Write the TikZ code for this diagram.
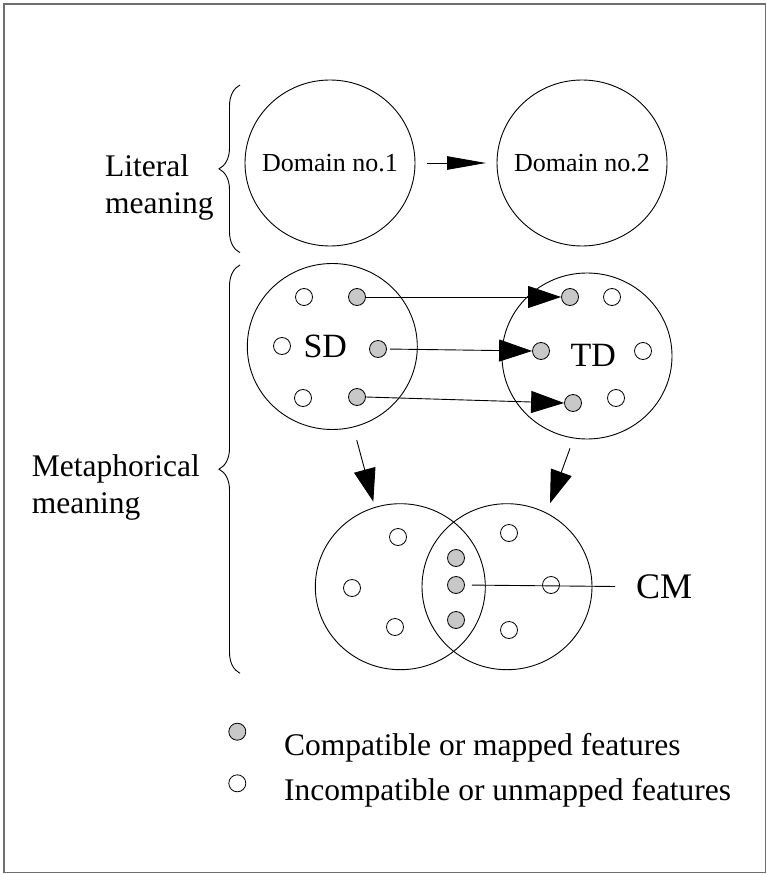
\documentclass[tikz,border=0pt]{standalone}
\usepackage{fontspec}
\setmainfont{Liberation Serif}
\usetikzlibrary{arrows.meta,shapes.geometric,decorations.pathreplacing}
\definecolor{framegray}{RGB}{110,110,110}
\definecolor{featgray}{RGB}{200,200,200}
\begin{document}
\begin{tikzpicture}[x=1pt,y=-1pt,
  dombox/.style={draw,ellipse,minimum width=170pt,minimum height=166pt,inner sep=0pt,outer sep=0pt,line width=0.9pt},
  domtext/.style={font=\fontsize{26}{30}\selectfont,inner sep=0pt},
  feat/.style={draw,circle,minimum size=17pt,inner sep=0pt,line width=0.8pt},
  mapped/.style={feat,fill=featgray},
  unmapped/.style={feat,fill=white},
  lbl/.style={font=\fontsize{31.5}{36.5}\selectfont,align=left,anchor=base west,inner sep=0pt},
  dlabel/.style={font=\fontsize{34}{38}\selectfont,inner sep=0pt},
  bigtip/.style={-{Triangle[length=33pt,width=22pt]},line width=0.9pt},
  smalltip/.style={-{Triangle[length=39pt,width=13.5pt]},line width=0.9pt},
  bracestyle/.style={decorate,decoration={brace,amplitude=21pt},line width=0.9pt}
]
\useasboundingbox (0,0) rectangle (767,874);
\draw[framegray,line width=1.3pt] (4,4) rectangle (765.5,872.5);

% ---- literal meaning ----
\node[lbl] (litlbl) at (105,213.3) {Literal\\meaning};
\coordinate (litTop) at (240,85);
\coordinate (litBot) at (240,252.7);
\draw[bracestyle] (litBot) -- (litTop);

\node[dombox] (d1) at (330,163) {};
\node[dombox] (d2) at (582,163) {};
\node[domtext] (d1txt) at (330,163) {Domain no.1};
\node[domtext] (d2txt) at (582,163) {Domain no.2};
\draw[smalltip,shorten <=11.7pt,shorten >=11pt] (d1.east) -- (d2.west);

% ---- metaphorical meaning ----
\node[lbl] (metlbl) at (31.7,513) {Metaphorical\\meaning};
\coordinate (metTop) at (240,265);
\coordinate (metBot) at (240,673.3);
\draw[bracestyle] (metBot) -- (metTop);

% source and target domains
\node[dombox] (sd) at (332.3,346.5) {};
\node[dombox] (td) at (587,356) {};
\node[dlabel] (sdlbl) at (325.3,346) {SD};
\node[dlabel] (tdlbl) at (593.3,355) {TD};

\node[unmapped] (so1) at (304,297) {};
\node[mapped]   (sg1) at (357,297) {};
\node[unmapped] (so2) at (282,346) {};
\node[mapped]   (sg2) at (378,349) {};
\node[unmapped] (so3) at (303,398) {};
\node[mapped]   (sg3) at (357,397) {};

\node[mapped]   (tg1) at (570,297) {};
\node[unmapped] (to1) at (612,297) {};
\node[mapped]   (tg2) at (541,351) {};
\node[unmapped] (to2) at (643,351) {};
\node[mapped]   (tg3) at (573,403) {};
\node[unmapped] (to3) at (616,398) {};

\draw[bigtip] (sg1.east) -- (tg1.west);
\draw[bigtip,shorten <=3pt] (sg2.east) -- (tg2.west);
\draw[bigtip] (sg3.east) -- (tg3.west);

% blended space
\node[dombox] (vl) at (400.3,586.7) {};
\node[dombox] (vr) at (507,586.7) {};

\coordinate (sdOut) at (356.7,440);
\coordinate (vlIn) at (373.3,501.7);
\coordinate (tdOut) at (570,448.3);
\coordinate (vrIn) at (550,503.3);
\draw[bigtip] (sdOut) -- (vlIn);
\draw[bigtip] (tdOut) -- (vrIn);

\node[unmapped] (lo1) at (398,537) {};
\node[unmapped] (lo2) at (352,588) {};
\node[unmapped] (lo3) at (395,627) {};
\node[mapped]   (cg1) at (456,558) {};
\node[mapped]   (cg2) at (456,585) {};
\node[mapped]   (cg3) at (456,620) {};
\node[unmapped] (ro1) at (509,533) {};
\node[unmapped] (ro2) at (551,585) {};
\node[unmapped] (ro3) at (509,630) {};

\node[font=\fontsize{36}{40}\selectfont,inner sep=0pt,anchor=west] (cm) at (636,586.7) {CM};
\draw[line width=0.9pt,shorten <=7pt,shorten >=21pt] (cg2.east) -- (cm.west);

% ---- legend ----
\node[mapped]   (keyg) at (237.3,731.7) {};
\node[unmapped] (keyo) at (237.3,783.3) {};
\node[lbl] (keygtxt) at (284,755) {Compatible or mapped features};
\node[lbl] (keyotxt) at (284,800) {Incompatible or unmapped features};
\end{tikzpicture}
\end{document}
